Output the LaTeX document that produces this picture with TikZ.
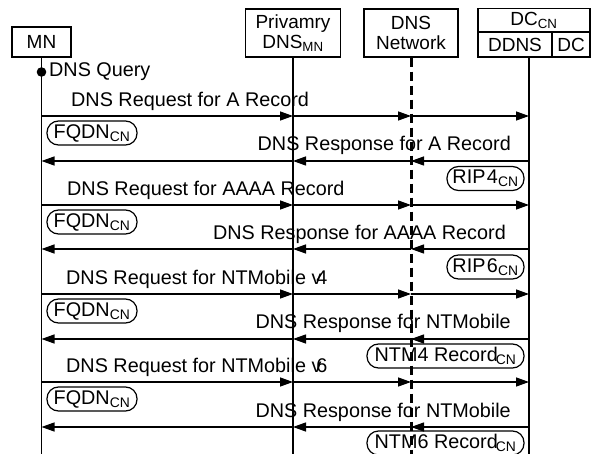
\documentclass[tikz,border=0pt]{standalone}
\usepackage{fontspec}
\setmainfont{Liberation Sans}
\usetikzlibrary{arrows.meta,shapes.misc}
\begin{document}
\begin{tikzpicture}[x=1pt,y=-1pt,
  font=\fontsize{19.8}{22}\selectfont,
  hdr/.style={draw,line width=1.3pt,inner sep=0pt,align=center,font=\fontsize{19}{22}\selectfont},
  life/.style={line width=1.3pt},
  dlife/.style={line width=3pt,dash pattern=on 9pt off 5pt},
  msg/.style={line width=1.3pt,-{Triangle[length=13pt,width=9pt]}},
  lbl/.style={inner sep=0pt},
  tag/.style={draw,line width=1.2pt,rounded corners=11.5pt,inner sep=0pt,minimum height=24pt}]
\useasboundingbox (0,0) rectangle (591,454);
% headers
\node[hdr,minimum width=59pt,minimum height=30pt] (mn) at (41.5,42) {MN};
\node[hdr,minimum width=95pt,minimum height=48pt] (pdns) at (293,33) {Privamry\\[-2pt]DNS\textsubscript{MN}};
\node[hdr,minimum width=94pt,minimum height=48pt] (net) at (411,33) {DNS\\[-2pt]Network};
\node[hdr,minimum width=112pt,minimum height=24pt] (dccn) at (534,20.5) {DC\textsubscript{CN}};
\node[hdr,minimum width=74pt,minimum height=25pt] (ddns) at (515,44.5) {DDNS};
\node[hdr,minimum width=38pt,minimum height=25pt] (dc) at (571,44.5) {DC};
% lifelines
\coordinate (mnB) at (41.5,454);
\coordinate (pB) at (293,454);
\coordinate (nB) at (411,454);
\coordinate (dT) at (529,57);
\coordinate (dB) at (529,454);
\draw[life] (mn.south) -- (mnB);
\draw[life] (pdns.south) -- (pB);
\draw[dlife] (net.south) -- (nB);
\draw[life] (dT) -- (dB);
% DNS query
\coordinate (q) at (41.5,72);
\fill (q) circle (4.8pt);
\node[lbl,anchor=west] (qtxt) at (49,72) {DNS Query};
% requests
\foreach \i/\y in {1/116,2/205,3/294,4/382}{
  \coordinate (m\i) at (41.5,\y);
  \coordinate (p\i) at (293,\y);
  \coordinate (n\i) at (411,\y);
  \coordinate (d\i) at (529,\y);
  \draw[msg] (m\i) -- (p\i);
  \draw[msg] (p\i) -- (n\i);
  \draw[msg] (n\i) -- (d\i);
  \node[tag,minimum width=90pt] (fq\i) at (92,\y+17) {FQDN\textsubscript{CN}};
}
\node[lbl,anchor=west] (rq1) at (71,101) {DNS Request for A Record};
\node[lbl,anchor=west] (rq2) at (67,190) {DNS Request for AAAA Record};
\node[lbl,anchor=west] (rq3) at (66,279) {DNS Request for NTMobile v\kern-5pt4};
\node[lbl,anchor=west] (rq4) at (66,367) {DNS Request for NTMobile v\kern-5pt6};
% responses
\foreach \i/\y in {1/161,2/249,3/339,4/427}{
  \coordinate (rm\i) at (41.5,\y);
  \coordinate (rp\i) at (293,\y);
  \coordinate (rn\i) at (411,\y);
  \coordinate (rd\i) at (529,\y);
  \draw[msg] (rd\i) -- (rn\i);
  \draw[msg] (rn\i) -- (rp\i);
  \draw[msg] (rp\i) -- (rm\i);
}
\node[lbl,anchor=east] (rs1) at (511,145) {DNS Response for A Record};
\node[lbl,anchor=east] (rs2) at (506,234) {DNS Response for AAAA Record};
\node[lbl,anchor=east] (rs3) at (511,323) {DNS Response for NTMobile};
\node[lbl,anchor=east] (rs4) at (511,412) {DNS Response for NTMobile};
\node[tag,minimum width=77pt] (rip4) at (485.5,178.5) {RIP\kern1.5pt4\textsubscript{CN}};
\node[tag,minimum width=77pt] (rip6) at (485.5,267) {RIP\kern1.5pt6\textsubscript{CN}};
\node[tag,minimum width=157pt] (ntm4) at (445.5,356) {NTM4 Record\kern-2pt\textsubscript{CN}};
\node[tag,minimum width=157pt] (ntm6) at (445.5,443) {NTM6 Record\kern-2pt\textsubscript{CN}};
\end{tikzpicture}
\end{document}
